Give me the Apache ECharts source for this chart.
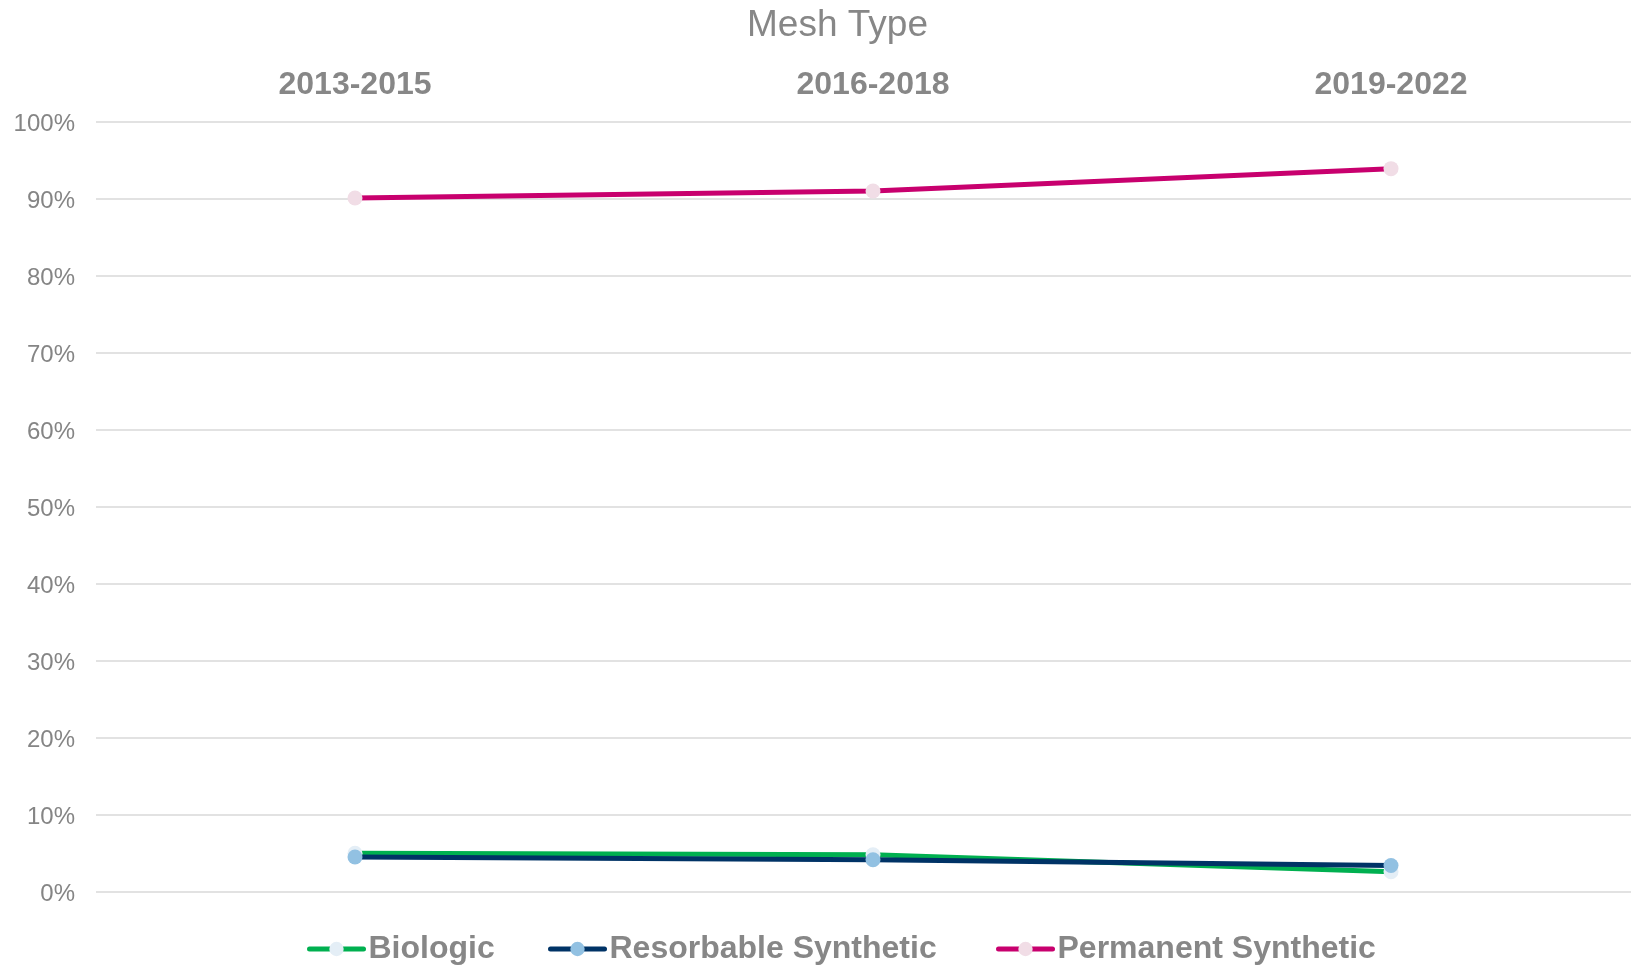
<!DOCTYPE html>
<html>
<head>
<meta charset="utf-8">
<script src="https://cdn.jsdelivr.net/npm/echarts@6/dist/echarts.min.js"></script>
<style>
html,body{margin:0;padding:0;background:#fff;overflow:hidden;}
#main{width:1650px;height:967px;}
</style>
</head>
<body>
<div id="main"></div>
<script>
var categories = ['2013-2015', '2016-2018', '2019-2022'];
var biologic = [5.0, 4.8, 2.6];
var resorbable = [4.5, 4.15, 3.4];
var permanent = [90.1, 91.0, 93.9];
var yTicks = [0, 10, 20, 30, 40, 50, 60, 70, 80, 90, 100];

var chart = echarts.init(document.getElementById('main'));
var fontFam = 'Liberation Sans, Arial, sans-serif';
function legendAt(name, left) {
  return {
    data: [name], left: left, top: 933, padding: 0,
    itemWidth: 54, itemHeight: 18, itemGap: 0,
    lineStyle: {width: 5, cap: 'round'},
    textStyle: {fontFamily: fontFam, fontSize: 32, fontWeight: 'bold', color: '#878787'}
  };
}
function mkSeries(name, data, lineColor, markColor) {
  return {
    name: name, type: 'line', data: data,
    symbol: 'circle', symbolSize: 15,
    lineStyle: {color: lineColor, width: 5},
    itemStyle: {color: markColor, borderWidth: 0},
    emphasis: {disabled: true},
    animation: false
  };
}
chart.setOption({
  backgroundColor: '#ffffff',
  animation: false,
  title: {
    text: 'Mesh Type', left: 747, top: 7, padding: 0,
    textStyle: {fontFamily: fontFam, fontSize: 37, fontWeight: 'normal', color: '#878787'}
  },
  legend: [
    legendAt('Biologic', 307),
    legendAt('Resorbable Synthetic', 548),
    legendAt('Permanent Synthetic', 996)
  ],
  grid: {left: 96, top: 121.7, right: 0, bottom: 75.3},
  xAxis: {
    type: 'category', data: categories, position: 'top',
    boundaryGap: true,
    axisLine: {show: false}, axisTick: {show: false},
    axisLabel: {fontFamily: fontFam, fontSize: 32, fontWeight: 'bold', color: '#878787', margin: 21}
  },
  yAxis: {
    type: 'value', min: yTicks[0], max: yTicks[yTicks.length - 1], interval: 10,
    axisLine: {show: false}, axisTick: {show: false},
    axisLabel: {
      margin: 21,
      formatter: function (v) { return '{a|' + v + '%}'; },
      rich: {a: {fontFamily: fontFam, fontSize: 24, color: '#858585', padding: [5, 0, 0, 0]}}
    },
    splitLine: {lineStyle: {color: '#e2e2e2', width: 2}}
  },
  series: [
    mkSeries('Biologic', biologic, '#00B050', '#E4EEF6'),
    mkSeries('Resorbable Synthetic', resorbable, '#003366', '#92C1E2'),
    mkSeries('Permanent Synthetic', permanent, '#C8006E', '#F1DDE6')
  ]
});
</script>
</body>
</html>
